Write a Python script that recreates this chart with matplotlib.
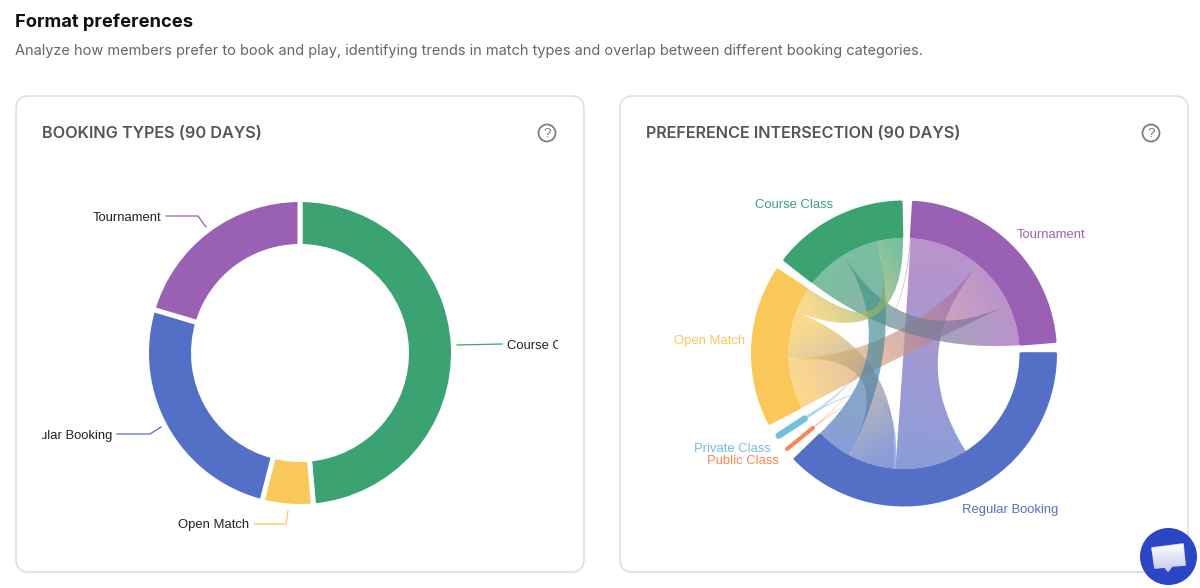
import numpy as np
import matplotlib
matplotlib.use("Agg")
import matplotlib.pyplot as plt
from matplotlib.patches import Circle, FancyBboxPatch, PathPatch, Polygon, Rectangle
from matplotlib.path import Path
from matplotlib.colors import to_rgb

# donut values (share of bookings, clockwise from the top)
donut_labels = ["Course Class", "Open Match", "Regular Booking", "Tournament"]
donut_values = [48.6, 5.4, 25.6, 20.4]
donut_colors = ["#3ba272", "#fac858", "#5470c6", "#9a60b4"]

# chord sectors, clockwise from the top
chord_names = ["Tournament", "Regular Booking", "Public Class", "Private Class", "Open Match", "Course Class"]
chord_totals = [83, 137, 1.5, 3.5, 62, 52]
chord_colors = ["#9a60b4", "#5470c6", "#fc8452", "#73c0de", "#fac858", "#3ba272"]

# links between sectors: source, target, size
link_source = ["Tournament", "Tournament", "Tournament", "Regular Booking", "Regular Booking", "Open Match",
               "Private Class", "Private Class", "Public Class", "Public Class", "Private Class"]
link_target = ["Regular Booking", "Open Match", "Course Class", "Open Match", "Course Class", "Course Class",
               "Regular Booking", "Tournament", "Regular Booking", "Open Match", "Open Match"]
link_size = [36.6, 24.9, 21, 23.4, 18, 13, 0.5, 0.4, 0.3, 0.3, 0.5]

# order of each sector's links, clockwise, None is a part with no ribbon
sector_order = {
    "Tournament": [7, 0, 1, 2],
    "Regular Booking": [None, 0, 8, 6, 3, 4],
    "Public Class": [8, 9],
    "Private Class": [7, 6, 10],
    "Open Match": [1, 10, 9, 3, 5],
    "Course Class": [2, 4, 5],
}

W, H = 1200, 588
CX, CY, R_OUT, R_IN = 904, 588 - 353.5, 153, 115.5
PAD = 3.5
START = 3


def pt(deg, r):
    a = np.radians(deg)
    return CX + r * np.sin(a), CY + r * np.cos(a)


def arc(a0, a1, r, n=40):
    return [pt(a, r) for a in np.linspace(a0, a1, n)]


def gradient_patch(ax, path, c0, c1, p0, p1, alpha):
    # linear gradient from p0 to p1, clipped to the path
    box = path.get_extents()
    x0, x1 = np.floor(box.x0) - 1, np.ceil(box.x1) + 1
    y0, y1 = np.floor(box.y0) - 1, np.ceil(box.y1) + 1
    xs, ys = np.meshgrid(np.linspace(x0, x1, int(x1 - x0) * 2), np.linspace(y0, y1, int(y1 - y0) * 2))
    d = np.array(p1) - np.array(p0)
    t = np.clip(((xs - p0[0]) * d[0] + (ys - p0[1]) * d[1]) / (d @ d), 0, 1)[..., None]
    rgb = np.array(to_rgb(c0)) * (1 - t) + np.array(to_rgb(c1)) * t
    rgba = np.dstack([rgb, np.full(xs.shape, alpha)])
    im = ax.imshow(rgba, extent=(x0, x1, y0, y1), origin="lower", aspect="equal", zorder=3, interpolation="bilinear")
    im.set_clip_path(PathPatch(path, transform=ax.transData))


fig = plt.figure(figsize=(12, 5.88), dpi=100)
ax = fig.add_axes([0, 0, 1, 1])
ax.axis("off")
plt.rcParams["font.family"] = ["Liberation Sans", "DejaVu Sans"]

# page heading
ax.text(15, 588 - 22, "Format preferences", family="Inter", fontsize=13.2, fontweight="bold", color="#111111", va="center")
ax.text(15, 588 - 51, "Analyze how members prefer to book and play, identifying trends in match types and overlap between different booking categories.",
        family="Inter", fontsize=10.48, color="#666666", va="center")

# cards
for x0, title in [(16, "BOOKING TYPES (90 DAYS)"), (620, "PREFERENCE INTERSECTION (90 DAYS)")]:
    ax.add_patch(FancyBboxPatch((x0, 588 - 572 - 1), 568, 476, boxstyle="round,pad=0,rounding_size=13",
                                fc="#e8e8e8", ec="none", zorder=1))
    ax.add_patch(FancyBboxPatch((x0, 588 - 572), 568, 476, boxstyle="round,pad=0,rounding_size=13",
                                fc="white", ec="#dedede", lw=1.1, zorder=1))
    ax.text(x0 + 26, 588 - 134, title, family="Inter", fontsize=11.68, fontweight="semibold", color="#555555", va="center", zorder=5)
    ax.add_patch(Circle((x0 + 531, 588 - 133), 8.5, fc="none", ec="#7a7a7a", lw=1.25, zorder=5))
    ax.text(x0 + 531, 588 - 134, "?", fontsize=9.5, color="#7a7a7a", ha="center", va="center", zorder=5)

# donut
ax.pie(donut_values, colors=donut_colors, startangle=90, counterclock=False, center=(300, 588 - 353), radius=153.5,
       frame=True, wedgeprops=dict(width=47, edgecolor="white", linewidth=3.6, zorder=3))

# donut labels with leader lines
clip = Rectangle((42, 0), 516, 588, transform=ax.transData)
leaders = [
    ("Course Class", 507, 346, "left", [(457, 345), (502, 344)], "#3ba272"),
    ("Open Match", 249, 525, "right", [(255, 524), (286, 524), (288, 511)], "#fac858"),
    ("Regular Booking", 112, 436, "right", [(117, 434), (150, 434), (161, 427)], "#5470c6"),
    ("Tournament", 161, 218, "right", [(166, 216), (198, 216), (206, 227)], "#9a60b4"),
]
for name, tx, ty, ha, line, col in leaders:
    t = ax.text(tx, 588 - ty, name, fontsize=9.4, color="#222222", ha=ha, va="center", zorder=5)
    t.set_clip_on(True)
    t.set_clip_path(clip)
    ax.plot([p[0] for p in line], [588 - p[1] for p in line], color=col, lw=0.9, zorder=4)

# chord layout, sectors and link spans from the values
spans = {}
a = START
for name, total, col in zip(chord_names, chord_totals, chord_colors):
    a0, a1 = a, a + total
    # one degree of arc per unit, parts follow sector_order
    parts = sector_order[name]
    used = sum(link_size[i] for i in parts if i is not None)
    # thin sectors keep their links centred in the bar
    pos = a0 + (total - used) / 2 if total < 5 else a0
    for i in parts:
        if i is None:
            pos += total - used
        else:
            spans[(i, name)] = (pos, pos + link_size[i])
            pos += link_size[i]
    if total < 5:
        # thin sectors are a bar with round ends
        w = max(4, np.radians(total) * (R_OUT + R_IN) / 2 * 0.8)
        mid = (a0 + a1) / 2
        p0, p1 = pt(mid, R_OUT - w / 2), pt(mid, R_IN + w / 2)
        ax.plot([p0[0], p1[0]], [p0[1], p1[1]], color=col, lw=w * 0.72, solid_capstyle="round", zorder=3)
    else:
        b0, b1 = a0 + 0.6, a1 - 0.6
        verts = arc(b0, b1, R_OUT - 1.5) + arc(b1, b0, R_IN + 1.5)
        ax.add_patch(Polygon(verts, closed=True, fc=col, ec=col, lw=2.2, joinstyle="round", zorder=3))
    a = a1 + PAD

for i, (src, dst) in enumerate(zip(link_source, link_target)):
    s0, s1 = spans[(i, src)]
    t0, t1 = spans[(i, dst)]
    sv = arc(s0, s1, R_IN)
    tv = arc(t0, t1, R_IN)
    verts = sv + [(CX, CY), tv[0]] + tv[1:] + [(CX, CY), sv[0]]
    codes = [Path.MOVETO] + [Path.LINETO] * (len(sv) - 1) + [Path.CURVE3, Path.CURVE3] + [Path.LINETO] * (len(tv) - 1) + [Path.CURVE3, Path.CURVE3]
    path = Path(verts, codes)
    gradient_patch(ax, path, chord_colors[chord_names.index(src)], chord_colors[chord_names.index(dst)],
                   pt((s0 + s1) / 2, R_IN), pt((t0 + t1) / 2, R_IN), 0.68)

# chord labels
chord_label_pos = {
    "Course Class": (833, 205), "Tournament": (1017, 235), "Open Match": (745, 341),
    "Private Class": (771, 449), "Public Class": (779, 461), "Regular Booking": (962, 510),
}
for name, col in zip(chord_names, chord_colors):
    x, y = chord_label_pos[name]
    ax.text(x, 588 - y, name, fontsize=9.4, color=col, ha="left" if x > CX else "right", va="center", zorder=5)

# chat button
ax.add_patch(Circle((1168.5, 588 - 556.5), 28.5, fc="#2a46c4", ec="none", zorder=6))
bubble = [(1152, 548), (1183, 544), (1185, 565), (1172, 566), (1168, 571), (1165, 567), (1155, 568)]
ax.add_patch(Polygon([(x, 588 - y) for x, y in bubble], closed=True, fc="#d5d9f3", ec="#d5d9f3", lw=1.2, joinstyle="round", zorder=6.5))
bubble_path = Path([(x, 588 - y) for x, y in bubble] + [(1152, 588 - 548)], closed=True)
ys = np.linspace(0, 1, 30)[:, None, None]
colors = np.array(to_rgb("#c3c9ee")) * (1 - ys) + np.array(to_rgb("#ffffff")) * ys
im = ax.imshow(np.repeat(colors, 4, axis=1), extent=(1150, 1187, 588 - 572, 588 - 543), origin="lower", aspect="equal", zorder=7)
im.set_clip_path(PathPatch(bubble_path, transform=ax.transData))

ax.set_xlim(0, W)
ax.set_ylim(0, H)
fig.savefig("out.png", dpi=100, facecolor="white")
